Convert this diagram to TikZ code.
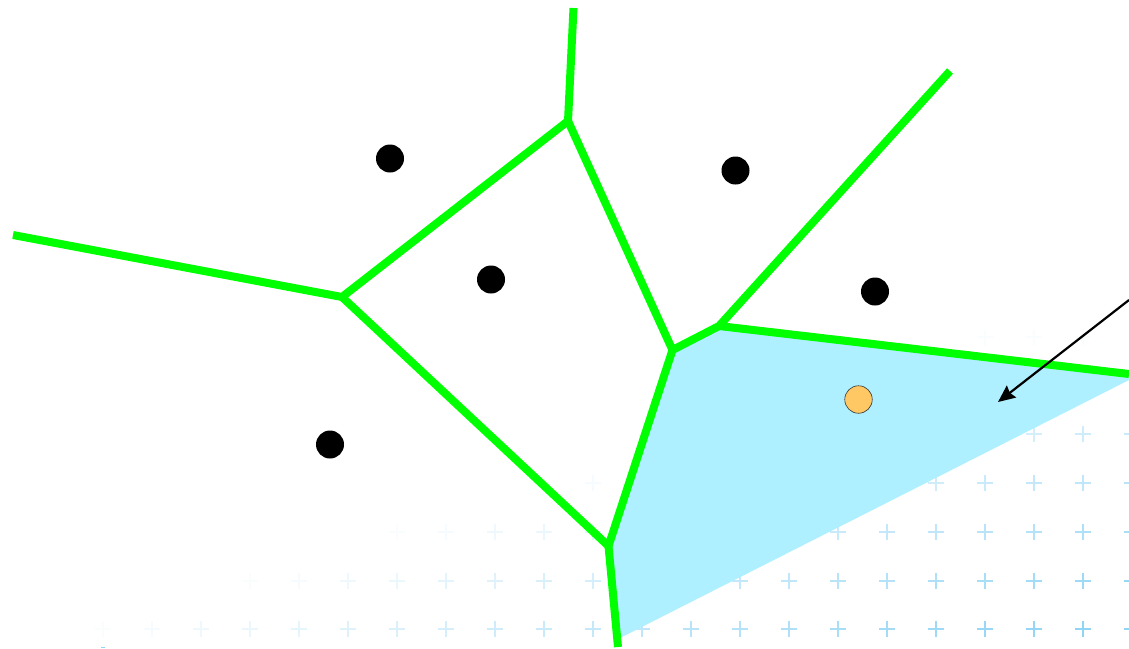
\documentclass[tikz,border=0pt]{standalone}
\usetikzlibrary{arrows.meta}
\definecolor{cellblue}{RGB}{174,240,255}
\definecolor{edgegreen}{RGB}{0,255,0}
\definecolor{plusblue}{RGB}{145,213,245}
\definecolor{siteorange}{RGB}{255,200,100}
\tikzset{
  edgeline/.style={draw=edgegreen,line width=8pt,line cap=butt,line join=bevel},
  site/.style={circle,fill=black,draw=none,minimum size=28pt,inner sep=0pt},
  querysite/.style={circle,fill=siteorange,draw=black!80,line width=0.6pt,minimum size=27.5pt,inner sep=0pt},
  plusmark/.style={draw=plusblue,line width=1.4pt},
  pointer/.style={draw=black,line width=2.2pt,-{Stealth[length=17pt,width=15pt,inset=2pt]}}
}
\begin{document}
\begin{tikzpicture}[x=1pt,y=-1pt]
\useasboundingbox (0,0) rectangle (1129,648);
\fill[white] (0,0) rectangle (1129,648);
% background plus grid
\foreach \yy in {434,483,532,581,629}{
  \foreach \xx in {54,103,...,1132}{
    \pgfmathsetmacro{\aval}{max(0,min(1,(\xx+3*\yy-1950)/1000))}
    \draw[plusmark,opacity=\aval] (\xx-8,\yy) -- (\xx+8,\yy) (\xx,\yy-8) -- (\xx,\yy+8);
  }
}
\foreach \xx in {985,1034,1083}{
  \draw[plusmark,opacity=0.04] (\xx-8,337) -- (\xx+8,337) (\xx,337-8) -- (\xx,337+8);
}
\fill[plusblue] (101,646.5) rectangle (105,648);
% vertices and free ends
\coordinate (A) at (568,121);
\coordinate (B) at (342,297);
\coordinate (C) at (672.5,350);
\coordinate (D) at (719,326);
\coordinate (E) at (608.5,546);
\coordinate (top) at (573.5,8);
\coordinate (left) at (13,235);
\coordinate (ne) at (950,71);
\coordinate (right) at (1129,374);
\coordinate (bottom) at (618,647);
\coordinate (cellcorner) at (1129,380);
\coordinate (cellfoot) at (620,638);
\coordinate (arrowstart) at (1129,300);
\coordinate (arrowtip) at (998,402);
% highlighted cell
\fill[cellblue] (C) -- (D) -- (right) -- (cellcorner) -- (cellfoot) -- (E) -- cycle;
% edges
\draw[edgeline] (top) -- (A) -- (B) -- (left);
\draw[edgeline] (A) -- (C) -- (D) -- (ne);
\draw[edgeline] (D) -- (right);
\draw[edgeline] (B) -- (E) -- (C);
\draw[edgeline] (E) -- (bottom);
% sites
\node[site] (s1) at (390,158.5) {};
\node[site] (s2) at (735.5,170.5) {};
\node[site] (s3) at (491,279.5) {};
\node[site] (s4) at (875,291.5) {};
\node[site] (s5) at (330,444.5) {};
\node[querysite] (q) at (858.5,399.5) {};
% pointer
\draw[pointer] (arrowstart) -- (arrowtip);
\end{tikzpicture}
\end{document}
